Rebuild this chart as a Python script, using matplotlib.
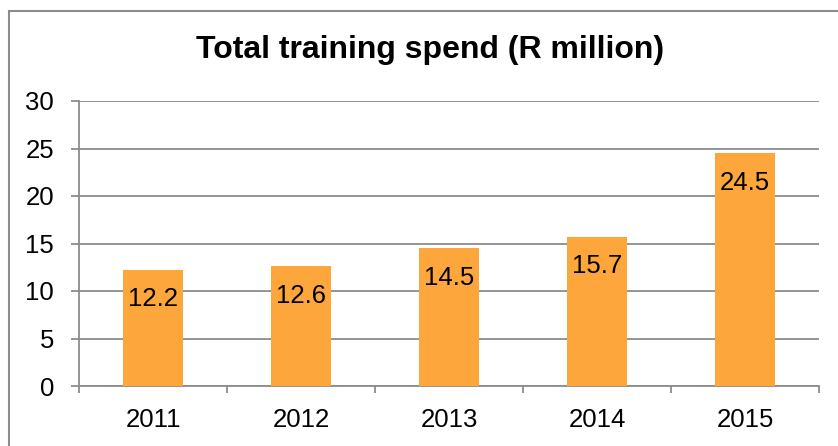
import matplotlib
matplotlib.use('Agg')
import matplotlib.pyplot as plt
from matplotlib.patches import Rectangle

# chart data
years = ['2011', '2012', '2013', '2014', '2015']
spend = [12.2, 12.6, 14.5, 15.7, 24.5]
y_ticks = [0, 5, 10, 15, 20, 25, 30]

BAR_COLOR = '#FCA63B'
GRID_COLOR = '#8C8C8C'
FS = 18.5

plt.rcParams['font.family'] = ['Liberation Sans', 'DejaVu Sans']

fig = plt.figure(figsize=(8.38, 4.46), dpi=100)
ax = fig.add_axes([79 / 838, 1 - 386 / 446, (819 - 79) / 838, (386 - 101) / 446])

x = list(range(len(years)))
ax.bar(x, spend, width=0.4, color=BAR_COLOR, zorder=3)

for xi, v in zip(x, spend):
    ax.annotate('{0}'.format(v), (xi, v), xytext=(0, -12.5), textcoords='offset points',
                ha='center', va='top', fontsize=FS, color='black', zorder=4)

ax.set_xlim(-0.5, len(years) - 0.5)
ax.set_ylim(0, 30)
ax.set_yticks(y_ticks)
ax.set_yticklabels([str(t) for t in y_ticks], fontsize=FS)
ax.yaxis.grid(True, color=GRID_COLOR, linewidth=1.3, zorder=0)

# category labels centred, ticks on category boundaries
ax.set_xticks(x)
ax.set_xticklabels(years, fontsize=FS)
ax.tick_params(axis='x', which='major', length=0, pad=16)
ax.set_xticks([i - 0.5 for i in range(len(years) + 1)], minor=True)
ax.tick_params(axis='x', which='minor', length=5, width=1.3, color=GRID_COLOR)
ax.tick_params(axis='y', length=6, width=1.3, color=GRID_COLOR, pad=12)

for side in ['top', 'right']:
    ax.spines[side].set_visible(False)
for side in ['left', 'bottom']:
    ax.spines[side].set_color(GRID_COLOR)
    ax.spines[side].set_linewidth(1.3)

fig.text(430 / 838, 1 - 50 / 446, 'Total training spend (R million)', ha='center', va='center',
         fontsize=23, fontweight='bold')

# outer chart border (right and bottom edges cut off)
fig.patches.append(Rectangle((9 / 838, -0.1), 1.1, 1 - 11 / 446 + 0.1, transform=fig.transFigure,
                             fill=False, edgecolor='#8C8C8C', linewidth=1.5))

fig.savefig('out.png', dpi=100)
